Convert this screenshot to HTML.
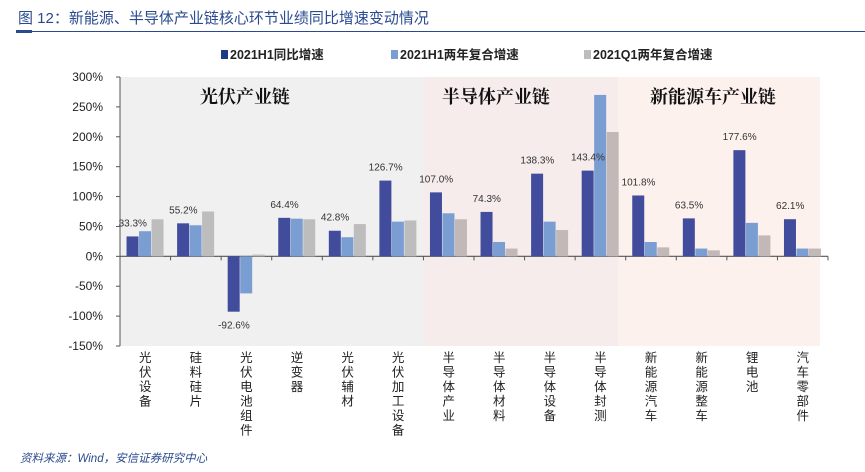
<!DOCTYPE html>
<html><head><meta charset="utf-8"><style>
body{margin:0;background:#fff;width:865px;height:467px;overflow:hidden;font-family:"Liberation Sans","Noto Sans CJK SC",sans-serif}
</style></head><body>
<svg width="865" height="467" font-family="Liberation Sans, Noto Sans CJK SC, sans-serif">
<text x="18" y="23" font-size="15" fill="#2a4a8f">图 12：新能源、半导体产业链核心环节业绩同比增速变动情况</text>
<rect x="16" y="31" width="849" height="1" fill="#2a4a8f"/>
<rect x="16" y="30" width="16" height="3" fill="#2a4a8f"/>
<g id="legend" font-size="12.5" font-weight="bold" fill="#222"></g>
<g id="bg"></g><g id="axes"></g><g id="bars"></g>
<text x="20" y="462" font-size="11.5" font-style="italic" fill="#2a4a8f">资料来源：Wind，安信证券研究中心</text>
</svg>
<script>
const categories=["光伏设备","硅料硅片","光伏电池组件","逆变器","光伏辅材","光伏加工设备","半导体产业","半导体材料","半导体设备","半导体封测","新能源汽车","新能源整车","锂电池","汽车零部件"];
const seriesNames=["2021H1同比增速","2021H1两年复合增速","2021Q1两年复合增速"];
const yoy=[33.3,55.2,-92.6,64.4,42.8,126.7,107.0,74.3,138.3,143.4,101.8,63.5,177.6,62.1];
const cagrH1=[42,52,-62,63,32,58,72,24,58,270,24,13,56,13];
const cagrQ1=[62,75,3,62,54,60,62,13,44,208,15,10,35,13];
const yTicks=[300,250,200,150,100,50,0,-50,-100,-150];
const NS="http://www.w3.org/2000/svg";
const x0=120,x1=828,yTop=77,yBot=346,vMax=300,vMin=-150;
const step=(x1-x0)/categories.length;
const y=v=>yTop+(vMax-v)/(vMax-vMin)*(yBot-yTop);
const xc=i=>x0+step*(i+0.5);
function mk(tag,attrs,parent){const e=document.createElementNS(NS,tag);for(const k in attrs)e.setAttribute(k,attrs[k]);document.getElementById(parent).appendChild(e);return e;}
let r;
r=mk('rect',{x:x0,y:yTop,width:step*6,height:yBot-yTop,fill:'#f0f0f0'},'bg');


r=mk('rect',{x:x0+step*6,y:yTop,width:step*4-7,height:yBot-yTop,fill:'#f6ecec'},'bg');


r=mk('rect',{x:x0+step*10-7,y:yTop,width:step*4-1,height:yBot-yTop,fill:'#fdf1ee'},'bg');


const regions=[["光伏产业链",245],["半导体产业链",496],["新能源车产业链",713]];
regions.forEach(g=>{const t=mk('text',{x:g[1],y:103,'font-size':18,'font-weight':'bold','text-anchor':'middle',fill:'#111','font-family':'Noto Serif CJK SC, serif'},'bg');t.textContent=g[0];

});
let a=mk('line',{x1:x0,y1:yTop,x2:x0,y2:yBot,stroke:'#555'},'axes');


yTicks.forEach(v=>{const t=mk('text',{x:x0-17,y:y(v)+4,'font-size':12,'text-anchor':'end',fill:'#222'},'axes');t.textContent=v+'%';


mk('line',{x1:x0-4,y1:y(v),x2:x0,y2:y(v),stroke:'#555'},'axes');});
a=mk('line',{x1:x0,y1:y(0),x2:x1,y2:y(0),stroke:'#555','stroke-width':1.2},'axes');


for(let i=0;i<=categories.length;i++)mk('line',{x1:x0+step*i,y1:y(0),x2:x0+step*i,y2:y(0)+4,stroke:'#555'},'axes');
categories.forEach((c,i)=>{const t=mk('text',{x:xc(i),y:364,'font-size':12.5,'text-anchor':'middle',fill:'#222'},'axes');


[...c].forEach((ch,k)=>{const s=document.createElementNS(NS,'tspan');s.setAttribute('x',xc(i));s.setAttribute('y',362+k*14.5);s.textContent=ch;t.appendChild(s);});});
const series=[yoy,cagrH1,cagrQ1];
const colors=[["#414c9c","#414c9c"],["#7a9dd2","#7a9dd2"],["#bdbdbd","#c2b8b8"]];
const bw=12.5;
categories.forEach((c,i)=>{series.forEach((s,j)=>{const v=s[i];const bx=xc(i)-bw*1.5+j*bw;
const b=mk('rect',{x:bx,y:Math.min(y(v),y(0)),width:bw-0.5,height:Math.abs(y(v)-y(0)),fill:colors[j][i<6?0:1]},'bars');

});
const v=yoy[i];const t=mk('text',{x:xc(i)-bw,y:v>=0?y(v)-10:y(v)+17,'font-size':10,'text-anchor':'middle',fill:'#333'},'bars');t.textContent=v.toFixed(1)+'%';

});
const lx=[221,391,584];
seriesNames.forEach((n,j)=>{const q=mk('rect',{x:lx[j],y:50,width:7,height:9,fill:j==0?'#1e3a8a':colors[j][0]},'legend');


const t=mk('text',{x:lx[j]+9,y:59},'legend');t.textContent=n;

});
</script>
</body></html>
